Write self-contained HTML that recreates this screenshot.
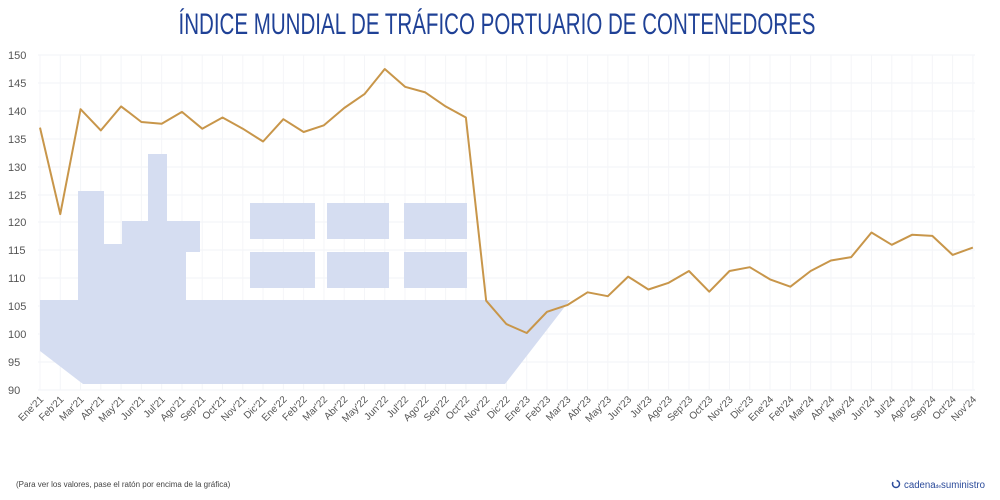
<!DOCTYPE html>
<html><head><meta charset="utf-8"><style>
html,body{margin:0;padding:0;background:#fff;width:1000px;height:500px;overflow:hidden}
text{font-family:"Liberation Sans",sans-serif}
</style></head><body>
<svg width="1000" height="500" viewBox="0 0 1000 500" xmlns="http://www.w3.org/2000/svg">
<text x="497" y="34" text-anchor="middle" font-size="30" fill="#1f4196" style="font-family:'Liberation Sans Narrow','Liberation Sans',sans-serif" textLength="637" lengthAdjust="spacingAndGlyphs">ÍNDICE MUNDIAL DE TRÁFICO PORTUARIO DE CONTENEDORES</text>
<g stroke="#f1f3f7" stroke-width="1">
<line x1="38" x2="975" y1="55" y2="55"/><line x1="38" x2="975" y1="83" y2="83"/><line x1="38" x2="975" y1="111" y2="111"/><line x1="38" x2="975" y1="139" y2="139"/><line x1="38" x2="975" y1="167" y2="167"/><line x1="38" x2="975" y1="195" y2="195"/><line x1="38" x2="975" y1="222" y2="222"/><line x1="38" x2="975" y1="250" y2="250"/><line x1="38" x2="975" y1="278" y2="278"/><line x1="38" x2="975" y1="306" y2="306"/><line x1="38" x2="975" y1="334" y2="334"/><line x1="38" x2="975" y1="362" y2="362"/><line x1="38" x2="975" y1="390" y2="390"/>
</g>
<g transform="translate(40,0) scale(20.28,1)" stroke="#f4f5f8" stroke-width="1">
<path vector-effect="non-scaling-stroke" d="M0,55V390M1,55V390M2,55V390M3,55V390M4,55V390M5,55V390M6,55V390M7,55V390M8,55V390M9,55V390M10,55V390M11,55V390M12,55V390M13,55V390M14,55V390M15,55V390M16,55V390M17,55V390M18,55V390M19,55V390M20,55V390M21,55V390M22,55V390M23,55V390M24,55V390M25,55V390M26,55V390M27,55V390M28,55V390M29,55V390M30,55V390M31,55V390M32,55V390M33,55V390M34,55V390M35,55V390M36,55V390M37,55V390M38,55V390M39,55V390M40,55V390M41,55V390M42,55V390M43,55V390M44,55V390M45,55V390M46,55V390"/>
</g>
<g fill="#555" font-size="11">
<text x="8" y="59">150</text><text x="8" y="87">145</text><text x="8" y="115">140</text><text x="8" y="143">135</text><text x="8" y="171">130</text><text x="8" y="199">125</text><text x="8" y="226">120</text><text x="8" y="254">115</text><text x="8" y="282">110</text><text x="8" y="310">105</text><text x="8" y="338">100</text><text x="8" y="366">95</text><text x="8" y="394">90</text>
</g>
<g fill="#d5ddf1">
<polygon points="40,300 78,300 78,191 104,191 104,244 122,244 122,221 148,221 148,154 167,154 167,221 200,221 200,252 186,252 186,300 570,300 505,384 83,384 40,351"/>
<rect x="250" y="203" width="65" height="36"/><rect x="327" y="203" width="62" height="36"/><rect x="404" y="203" width="63" height="36"/>
<rect x="250" y="252" width="65" height="36"/><rect x="327" y="252" width="62" height="36"/><rect x="404" y="252" width="63" height="36"/>
</g>
<g transform="translate(40,0) scale(20.28,1)">
<polyline fill="none" stroke="#c8964a" stroke-width="2" vector-effect="non-scaling-stroke" stroke-linejoin="round" points="0,127.6 1,214.1 2,109.2 3,130.4 4,106.4 5,122 6,123.7 7,111.9 8,128.7 9,117.5 10,128.7 11,141.5 12,119.2 13,132 14,125.3 15,108 16,94.1 17,69 18,86.8 19,92.4 20,106.4 21,117.5 22,300.7 23,324.1 24,333 25,311.8 26,305.1 27,292.3 28,296.2 29,276.6 30,289.5 31,282.8 32,271 33,291.7 34,271 35,267.2 36,279.4 37,286.7 38,271 39,260.5 40,257.1 41,232.5 42,244.8 43,234.8 44,235.9 45,254.9 46,247.6"/>
</g>
<g fill="#555" font-size="10" text-anchor="end">
<text transform="translate(44,400) rotate(-45)">Ene'21</text>
<text transform="translate(64.3,400) rotate(-45)">Feb'21</text>
<text transform="translate(84.6,400) rotate(-45)">Mar'21</text>
<text transform="translate(104.8,400) rotate(-45)">Abr'21</text>
<text transform="translate(125.1,400) rotate(-45)">May'21</text>
<text transform="translate(145.4,400) rotate(-45)">Jun'21</text>
<text transform="translate(165.7,400) rotate(-45)">Jul'21</text>
<text transform="translate(186,400) rotate(-45)">Ago'21</text>
<text transform="translate(206.2,400) rotate(-45)">Sep'21</text>
<text transform="translate(226.5,400) rotate(-45)">Oct'21</text>
<text transform="translate(246.8,400) rotate(-45)">Nov'21</text>
<text transform="translate(267.1,400) rotate(-45)">Dic'21</text>
<text transform="translate(287.4,400) rotate(-45)">Ene'22</text>
<text transform="translate(307.6,400) rotate(-45)">Feb'22</text>
<text transform="translate(327.9,400) rotate(-45)">Mar'22</text>
<text transform="translate(348.2,400) rotate(-45)">Abr'22</text>
<text transform="translate(368.5,400) rotate(-45)">May'22</text>
<text transform="translate(388.8,400) rotate(-45)">Jun'22</text>
<text transform="translate(409,400) rotate(-45)">Jul'22</text>
<text transform="translate(429.3,400) rotate(-45)">Ago'22</text>
<text transform="translate(449.6,400) rotate(-45)">Sep'22</text>
<text transform="translate(469.9,400) rotate(-45)">Oct'22</text>
<text transform="translate(490.2,400) rotate(-45)">Nov'22</text>
<text transform="translate(510.4,400) rotate(-45)">Dic'22</text>
<text transform="translate(530.7,400) rotate(-45)">Ene'23</text>
<text transform="translate(551,400) rotate(-45)">Feb'23</text>
<text transform="translate(571.3,400) rotate(-45)">Mar'23</text>
<text transform="translate(591.6,400) rotate(-45)">Abr'23</text>
<text transform="translate(611.8,400) rotate(-45)">May'23</text>
<text transform="translate(632.1,400) rotate(-45)">Jun'23</text>
<text transform="translate(652.4,400) rotate(-45)">Jul'23</text>
<text transform="translate(672.7,400) rotate(-45)">Ago'23</text>
<text transform="translate(693,400) rotate(-45)">Sep'23</text>
<text transform="translate(713.2,400) rotate(-45)">Oct'23</text>
<text transform="translate(733.5,400) rotate(-45)">Nov'23</text>
<text transform="translate(753.8,400) rotate(-45)">Dic'23</text>
<text transform="translate(774.1,400) rotate(-45)">Ene'24</text>
<text transform="translate(794.4,400) rotate(-45)">Feb'24</text>
<text transform="translate(814.6,400) rotate(-45)">Mar'24</text>
<text transform="translate(834.9,400) rotate(-45)">Abr'24</text>
<text transform="translate(855.2,400) rotate(-45)">May'24</text>
<text transform="translate(875.5,400) rotate(-45)">Jun'24</text>
<text transform="translate(895.8,400) rotate(-45)">Jul'24</text>
<text transform="translate(916,400) rotate(-45)">Ago'24</text>
<text transform="translate(936.3,400) rotate(-45)">Sep'24</text>
<text transform="translate(956.6,400) rotate(-45)">Oct'24</text>
<text transform="translate(976.9,400) rotate(-45)">Nov'24</text>
</g>
<text x="16" y="487" font-size="8" fill="#444">(Para ver los valores, pase el ratón por encima de la gráfica)</text>
<circle cx="896" cy="484" r="3.5" fill="none" stroke="#2a4a9a" stroke-width="1.5" stroke-dasharray="13 4"/>
<text x="904" y="488" font-size="10" fill="#2a4a9a" textLength="81" lengthAdjust="spacingAndGlyphs">cadena<tspan font-size="5">de</tspan>suministro</text>
</svg>
</body></html>
